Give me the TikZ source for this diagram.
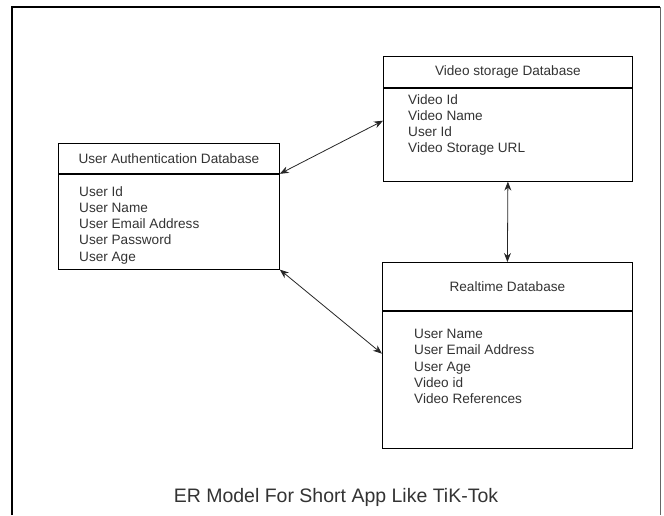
\documentclass[tikz,border=0pt]{standalone}
\usepackage{fontspec}
\setmainfont{Liberation Sans}
\usetikzlibrary{arrows.meta}
\tikzset{
  tblbox/.style={draw=black,line width=0.8pt,anchor=north west,inner sep=0pt,
    font=\fontsize{13.6}{16}\selectfont,text=black!80},
  fields/.style={anchor=north west,inner sep=0pt,align=left,
    font=\fontsize{13.6}{16.3}\selectfont,text=black!80},
  link/.style={{Stealth[length=9pt,width=7pt]}-{Stealth[length=9pt,width=7pt]},
    line width=0.8pt,draw=black!85}
}
\begin{document}
\begin{tikzpicture}[x=1pt,y=-1pt]
  \useasboundingbox (0,0) rectangle (664,515);
  % page frame
  \draw[line width=1.6pt] (12,515) -- (12,7) -- (660,7);
  \draw[line width=1pt,black!60] (660,7) -- (660,515);
  % user authentication table
  \node[tblbox,minimum width=221pt,minimum height=30pt] (authhead) at (58,143) {User Authentication Database};
  \node[tblbox,minimum width=221pt,minimum height=95pt] (authbody) at (authhead.south west) {};
  \node[fields] (authfields) at (79,186) {User Id\\User Name\\User Email Address\\User Password\\User Age};
  % video storage table
  \node[tblbox,minimum width=249pt,minimum height=31pt] (videohead) at (383,56) {Video storage Database};
  \node[tblbox,minimum width=249pt,minimum height=93pt] (videobody) at (videohead.south west) {};
  \node[fields] (videofields) at (408,94) {Video Id\\Video Name\\User Id\\Video Storage URL};
  % realtime table
  \node[tblbox,minimum width=250pt,minimum height=48pt] (realhead) at (382,262) {Realtime Database};
  \node[tblbox,minimum width=250pt,minimum height=137pt] (realbody) at (realhead.south west) {};
  \node[fields] (realfields) at (414,329) {User Name\\User Email Address\\User Age\\Video id\\Video References};
  % links
  \draw[link] (authhead.south east) -- ([yshift=14pt]videobody.west);
  \draw[link] (authbody.south east) -- ([yshift=26pt]realbody.west);
  \draw[link] (videobody.south) -- (realhead.north);
  % caption
  \node[font=\fontsize{19.5}{22}\selectfont,text=black!80] (caption) at (336,497) {ER Model For Short App Like TiK-Tok};
\end{tikzpicture}
\end{document}
